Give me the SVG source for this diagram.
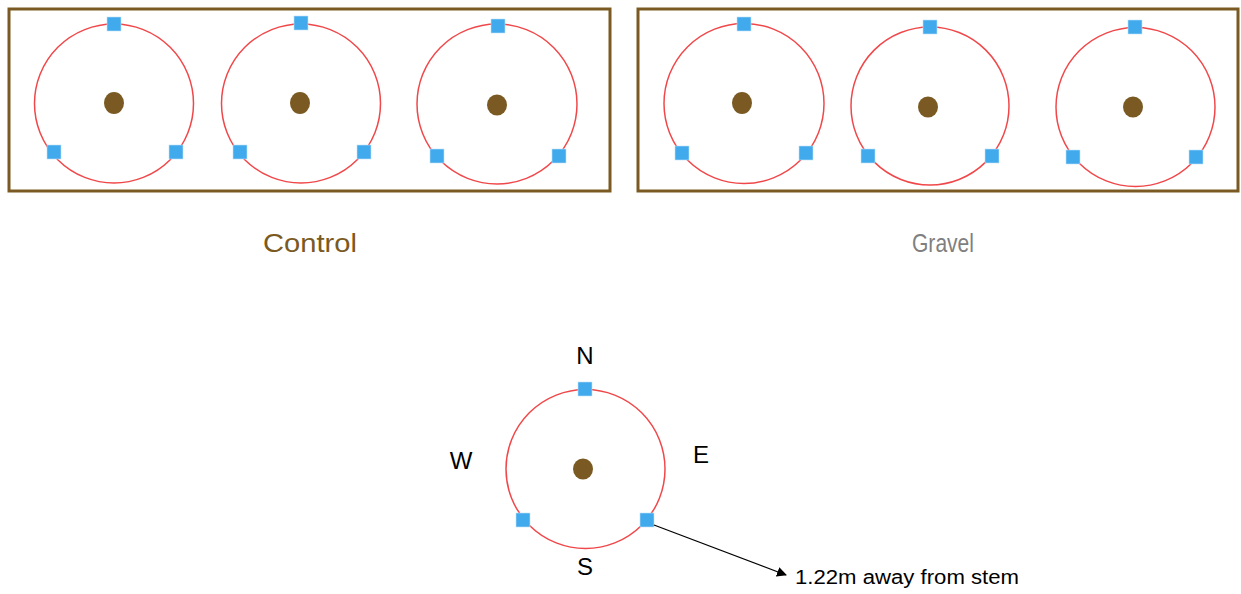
<svg xmlns="http://www.w3.org/2000/svg" width="1241" height="594" viewBox="0 0 1241 594">
<defs>
<style>
.box{fill:none;stroke:#7a5a22;stroke-width:3}
.ring{fill:none;stroke:#f0484a;stroke-width:1.5}
.stem{fill:#7a5a22}
.probe{fill:#41aaec;stroke:#bfe0f7;stroke-width:0.6}
.lbl{font-family:"Liberation Sans",Arial,sans-serif}
.dir{font-family:"Liberation Sans",Arial,sans-serif;font-size:24px;fill:#000;text-anchor:middle}
</style>
<marker id="ah" viewBox="0 0 10 10" refX="9" refY="5" markerWidth="10" markerHeight="10" markerUnits="userSpaceOnUse" orient="auto">
<path d="M0,0 L10,5 L0,10 z" fill="#000"/>
</marker>
</defs>
<rect width="1241" height="594" fill="#fff"/>
<g id="control-box"><rect class="box" x="9" y="9" width="601" height="182"/></g>
<g id="gravel-box"><rect class="box" x="638" y="9" width="600" height="182"/></g>

<g id="c1"><circle class="ring" cx="114" cy="103.5" r="79.5"/><ellipse class="stem" cx="114" cy="103" rx="10" ry="11"/>
<rect class="probe" x="107" y="17" width="14" height="14"/><rect class="probe" x="47" y="145" width="14" height="14"/><rect class="probe" x="169" y="145" width="14" height="14"/></g>
<g id="c2"><circle class="ring" cx="301" cy="103.5" r="79.5"/><ellipse class="stem" cx="300" cy="103" rx="10" ry="11"/>
<rect class="probe" x="294" y="16" width="14" height="14"/><rect class="probe" x="233" y="145" width="14" height="14"/><rect class="probe" x="357" y="145" width="14" height="14"/></g>
<g id="c3"><circle class="ring" cx="497" cy="104" r="80"/><ellipse class="stem" cx="497" cy="105" rx="10" ry="10.5"/>
<rect class="probe" x="491" y="19" width="14" height="14"/><rect class="probe" x="430" y="149" width="14" height="14"/><rect class="probe" x="552" y="149" width="14" height="14"/></g>

<g id="g1"><circle class="ring" cx="744" cy="103.5" r="80"/><ellipse class="stem" cx="742" cy="103" rx="10" ry="11"/>
<rect class="probe" x="737" y="17" width="14" height="14"/><rect class="probe" x="675" y="146" width="14" height="14"/><rect class="probe" x="799" y="146" width="14" height="14"/></g>
<g id="g2"><circle class="ring" cx="930" cy="106" r="79"/><ellipse class="stem" cx="928" cy="107" rx="10" ry="10.5"/>
<rect class="probe" x="923" y="20" width="14" height="14"/><rect class="probe" x="861" y="149" width="14" height="14"/><rect class="probe" x="985" y="149" width="14" height="14"/></g>
<g id="g3"><circle class="ring" cx="1135.5" cy="107" r="79.5"/><ellipse class="stem" cx="1133" cy="107" rx="10" ry="10.5"/>
<rect class="probe" x="1128" y="20" width="14" height="14"/><rect class="probe" x="1066" y="150" width="14" height="14"/><rect class="probe" x="1189" y="150" width="14" height="14"/></g>

<g id="label-control"><text class="lbl" x="310" y="252" font-size="25" fill="#7a5a22" text-anchor="middle" textLength="94" lengthAdjust="spacingAndGlyphs">Control</text></g>
<g id="label-gravel"><text class="lbl" x="943" y="252" font-size="25" fill="#7f7f7f" text-anchor="middle" textLength="62" lengthAdjust="spacingAndGlyphs">Gravel</text></g>

<g id="legend"><circle class="ring" cx="585.5" cy="469" r="79.5"/><ellipse class="stem" cx="583" cy="469" rx="10" ry="10.5"/>
<rect class="probe" x="578" y="382" width="14" height="14"/><rect class="probe" x="516" y="513" width="14" height="14"/><rect class="probe" x="640" y="513" width="14" height="14"/>
<text class="dir" x="585" y="364">N</text><text class="dir" x="461" y="469">W</text><text class="dir" x="701" y="463">E</text><text class="dir" x="585" y="575">S</text></g>

<g id="connectors"><line x1="654" y1="525" x2="786" y2="575" stroke="#000" stroke-width="1.3" marker-end="url(#ah)"/></g>
<g id="label-distance"><text class="lbl" x="795" y="584" font-size="20" fill="#000" textLength="224" lengthAdjust="spacingAndGlyphs">1.22m away from stem</text></g>
</svg>
